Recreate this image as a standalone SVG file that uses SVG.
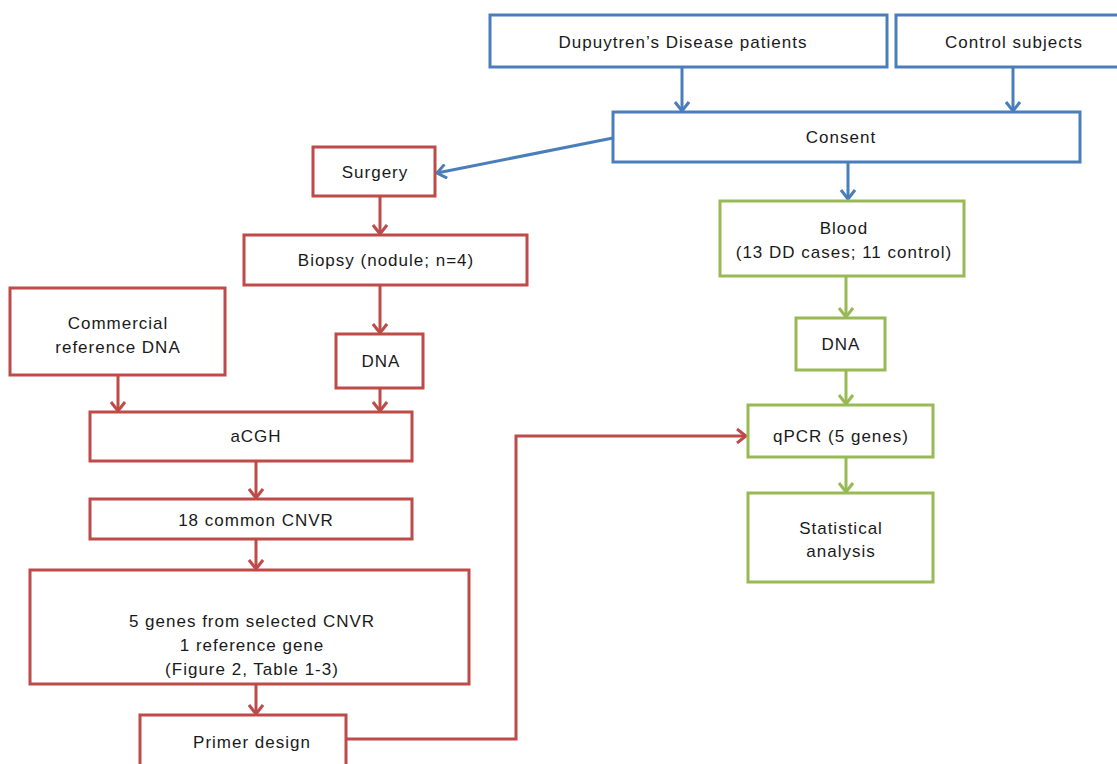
<svg xmlns="http://www.w3.org/2000/svg" width="1117" height="764" viewBox="0 0 1117 764">
<defs>
<style>
.b{fill:#fff;stroke:#4a7ebb;stroke-width:3}
.r{fill:#fff;stroke:#be4b48;stroke-width:3}
.g{fill:#fff;stroke:#98b954;stroke-width:3}
.cb{fill:none;stroke:#4a7ebb;stroke-width:3}
.cr{fill:none;stroke:#be4b48;stroke-width:3}
.cg{fill:none;stroke:#98b954;stroke-width:3}
text{font-family:"Liberation Sans",Arial,sans-serif;font-size:17px;letter-spacing:1px;fill:#1a1a1a;text-anchor:middle}
</style>
<marker id="ab" viewBox="0 0 16 16" refX="14" refY="8" markerWidth="16" markerHeight="16" markerUnits="userSpaceOnUse" orient="auto"><path d="M5,1 L14,8 L5,15" fill="none" stroke="#4a7ebb" stroke-width="3"/></marker>
<marker id="ar" viewBox="0 0 16 16" refX="14" refY="8" markerWidth="16" markerHeight="16" markerUnits="userSpaceOnUse" orient="auto"><path d="M5,1 L14,8 L5,15" fill="none" stroke="#be4b48" stroke-width="3"/></marker>
<marker id="ag" viewBox="0 0 16 16" refX="14" refY="8" markerWidth="16" markerHeight="16" markerUnits="userSpaceOnUse" orient="auto"><path d="M5,1 L14,8 L5,15" fill="none" stroke="#98b954" stroke-width="3"/></marker>
</defs>
<rect width="1117" height="764" fill="#fff"/>
<g id="connectors">
<line class="cb" x1="682" y1="67" x2="682" y2="111" marker-end="url(#ab)"/>
<line class="cb" x1="1013" y1="67" x2="1013" y2="111" marker-end="url(#ab)"/>
<line class="cb" x1="613" y1="138" x2="437" y2="173" marker-end="url(#ab)"/>
<line class="cb" x1="848" y1="162" x2="848" y2="199" marker-end="url(#ab)"/>
<line class="cr" x1="380" y1="196" x2="380" y2="234" marker-end="url(#ar)"/>
<line class="cr" x1="380" y1="285" x2="380" y2="333" marker-end="url(#ar)"/>
<line class="cr" x1="118" y1="375" x2="118" y2="411" marker-end="url(#ar)"/>
<line class="cr" x1="380" y1="388" x2="380" y2="411" marker-end="url(#ar)"/>
<line class="cr" x1="256" y1="461" x2="256" y2="498" marker-end="url(#ar)"/>
<line class="cr" x1="256" y1="539" x2="256" y2="569" marker-end="url(#ar)"/>
<line class="cr" x1="256" y1="684" x2="256" y2="714" marker-end="url(#ar)"/>
<polyline class="cr" points="346,739 516,739 516,436 746,436" marker-end="url(#ar)"/>
<line class="cg" x1="846" y1="276" x2="846" y2="317" marker-end="url(#ag)"/>
<line class="cg" x1="846" y1="370" x2="846" y2="404" marker-end="url(#ag)"/>
<line class="cg" x1="846" y1="457" x2="846" y2="492" marker-end="url(#ag)"/>
</g>
<g id="dd"><rect class="b" x="490" y="15" width="397" height="52"/><text x="683" y="48">Dupuytren’s Disease patients</text></g>
<g id="ctrl"><rect class="b" x="896" y="15" width="225" height="52"/><text x="1014" y="48">Control subjects</text></g>
<g id="consent"><rect class="b" x="613" y="112" width="467" height="50"/><text x="841" y="143">Consent</text></g>
<g id="surgery"><rect class="r" x="313" y="147" width="122" height="49"/><text x="375" y="178">Surgery</text></g>
<g id="biopsy"><rect class="r" x="244" y="235" width="283" height="50"/><text x="386" y="266">Biopsy (nodule; n=4)</text></g>
<g id="commercial"><rect class="r" x="10" y="288" width="215" height="87"/><text x="118" y="329">Commercial</text><text x="118" y="353">reference DNA</text></g>
<g id="dna1"><rect class="r" x="336" y="334" width="87" height="54"/><text x="381" y="367">DNA</text></g>
<g id="acgh"><rect class="r" x="90" y="412" width="322" height="49"/><text x="256" y="442">aCGH</text></g>
<g id="cnvr"><rect class="r" x="90" y="499" width="322" height="40"/><text x="256" y="526">18 common CNVR</text></g>
<g id="genes"><rect class="r" x="30" y="570" width="439" height="114"/><text x="252" y="627">5 genes from selected CNVR</text><text x="252" y="651">1 reference gene</text><text x="252" y="675">(Figure 2, Table 1-3)</text></g>
<g id="primer"><rect class="r" x="140" y="715" width="206" height="55"/><text x="252" y="748">Primer design</text></g>
<g id="blood"><rect class="g" x="720" y="201" width="244" height="75"/><text x="844" y="234">Blood</text><text x="844" y="258">(13 DD cases; 11 control)</text></g>
<g id="dna2"><rect class="g" x="796" y="318" width="89" height="52"/><text x="841" y="350">DNA</text></g>
<g id="qpcr"><rect class="g" x="748" y="405" width="185" height="52"/><text x="841" y="442">qPCR (5 genes)</text></g>
<g id="stats"><rect class="g" x="748" y="493" width="185" height="89"/><text x="841" y="534">Statistical</text><text x="841" y="557">analysis</text></g>
</svg>
